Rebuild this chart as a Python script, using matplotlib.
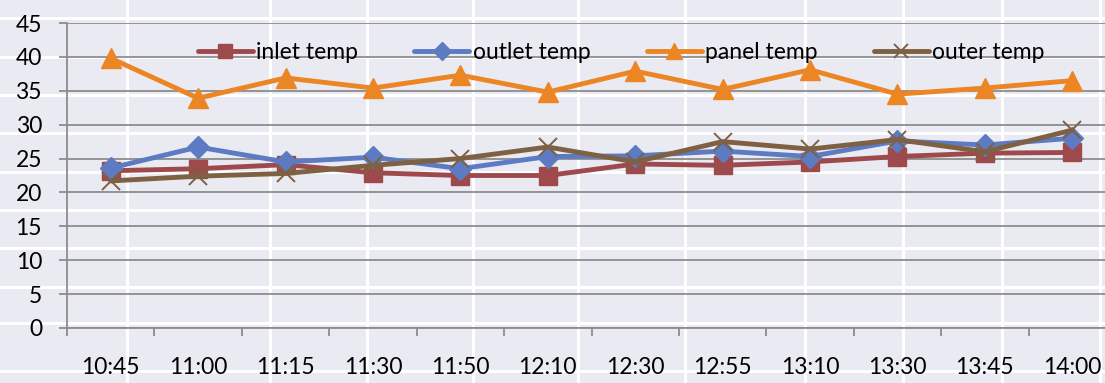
import matplotlib
matplotlib.use("Agg")
import matplotlib.pyplot as plt
import numpy as np

# Readings, one per sample time
times = ["10:45", "11:00", "11:15", "11:30", "11:50", "12:10",
         "12:30", "12:55", "13:10", "13:30", "13:45", "14:00"]
inlet_temp = [23.2, 23.5, 24.1, 22.9, 22.5, 22.5, 24.2, 24.0, 24.5, 25.3, 25.8, 25.9]
outlet_temp = [23.6, 26.7, 24.5, 25.2, 23.5, 25.3, 25.4, 26.1, 25.3, 27.6, 27.0, 28.0]
panel_temp = [39.8, 33.9, 36.9, 35.4, 37.3, 34.8, 37.9, 35.2, 38.1, 34.5, 35.4, 36.5]
outer_temp = [21.7, 22.4, 22.8, 24.0, 25.0, 26.7, 24.5, 27.5, 26.4, 27.8, 26.0, 29.2]

series = [
    ("inlet temp", inlet_temp, "#9E4A4D", "s", 13),
    ("outlet temp", outlet_temp, "#5C7BC2", "D", 11),
    ("panel temp", panel_temp, "#EC8523", "^", 14),
    ("outer temp", outer_temp, "#7E6042", "x", 13),
]

plt.rcParams["font.family"] = ["Lato", "DejaVu Sans"]
FS = 16.5

fig = plt.figure(figsize=(11.05, 3.83), dpi=100, facecolor="#EAEAF2")

# backdrop grid behind the transparent chart
bg = fig.add_axes([0, 0, 1, 1], zorder=-1)
bg.set_xlim(0, 1105)
bg.set_ylim(383, 0)
bg.set_facecolor("#EAEAF2")
for x in [127, 270, 367, 473, 578, 685, 805, 903, 1002, 1100]:
    bg.axvline(x, color="white", lw=2.2)
for y in [18, 57, 95, 133, 172, 210, 248, 287, 323, 371]:
    bg.axhline(y, color="white", lw=2.2)
bg.axis("off")

ax = fig.add_axes([67 / 1105, 1 - 328 / 383, 1049 / 1105, 305 / 383])
ax.patch.set_alpha(0)

x = np.arange(len(times))
for name, vals, color, marker, ms in series:
    kw = dict(color=color, lw=3.5, marker=marker, markersize=ms, label=name,
              solid_capstyle="round", solid_joinstyle="round")
    if marker == "x":
        kw.update(markeredgewidth=1.4)
    else:
        kw.update(markeredgecolor=color)
    ax.plot(x, vals, **kw)

ax.set_xlim(-0.5, len(times) - 0.5)
ax.set_ylim(0, 45)
ax.set_yticks(range(0, 46, 5))
ax.grid(axis="y", color="#8C8C8C", lw=1.3)
ax.set_axisbelow(True)

# category boundaries get the tick marks, labels sit in between
ax.set_xticks(np.arange(-0.5, len(times), 1.0))
ax.set_xticklabels([])
ax.set_xticks(x, minor=True)
ax.set_xticklabels(times, minor=True)
ax.tick_params(axis="x", which="major", length=6, width=1.3, color="#8C8C8C")
ax.tick_params(axis="x", which="minor", length=0, pad=21, labelsize=FS)
ax.tick_params(axis="y", length=6, width=1.3, color="#8C8C8C", pad=12, labelsize=FS)

for side in ["top", "right"]:
    ax.spines[side].set_visible(False)
for side in ["left", "bottom"]:
    ax.spines[side].set_color("#8C8C8C")
    ax.spines[side].set_linewidth(1.3)

ax.legend(loc="upper left", bbox_to_anchor=(0.105, 1.005), ncol=4, frameon=False,
          fontsize=FS, handlelength=2.4, handletextpad=0.15, columnspacing=2.45,
          markerscale=0.8)

fig.savefig("out.png", dpi=100, facecolor=fig.get_facecolor())
